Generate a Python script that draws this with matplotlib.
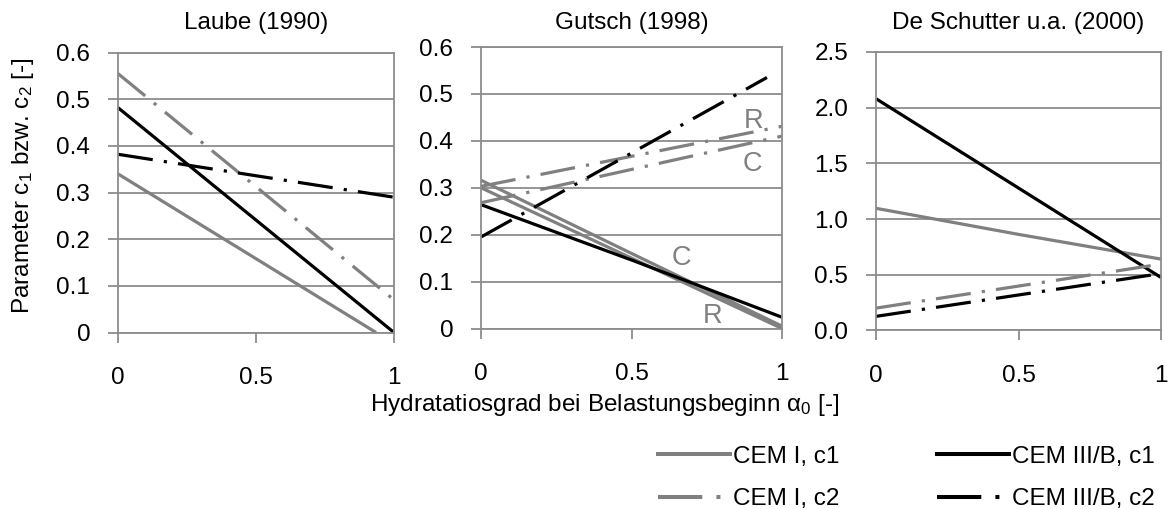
import numpy as np
import matplotlib
matplotlib.use("Agg")
import matplotlib.pyplot as plt
from matplotlib.lines import Line2D
from matplotlib.ticker import FuncFormatter

# Hydratationsgrad bei Belastungsbeginn (x) und Parameter c1 / c2 (y)
laube_x = [0.0, 1.0]
laube_cem1_c1_x = [0.0, 0.935]
laube_cem1_c1 = [0.34, 0.0]
laube_cem3_c1 = [0.482, 0.0]
laube_cem1_c2 = [0.555, 0.07]
laube_cem3_c2 = [0.382, 0.29]

gutsch_x = [0.0, 0.5, 1.0]
gutsch_cem1_c1_C = [0.316, 0.160, 0.005]
gutsch_cem1_c1_R = [0.300, 0.150, 0.0]
gutsch_cem3_c1 = [0.264, 0.146, 0.024]
gutsch_cem1_c2_R = [0.303, 0.367, 0.431]
gutsch_cem1_c2_C = [0.268, 0.339, 0.410]
gutsch_cem3_c2_x = [0.0, 0.95]
gutsch_cem3_c2 = [0.195, 0.535]

schutter_x = [0.0, 0.5, 1.0]
schutter_cem1_c1 = [1.096, 0.862, 0.64]
schutter_cem3_c1 = [2.08, 1.278, 0.475]
schutter_cem1_c2 = [0.20, 0.398, 0.595]
schutter_cem3_c2 = [0.126, 0.318, 0.51]

titles = ["Laube (1990)", "Gutsch (1998)", "De Schutter u.a. (2000)"]
legend_labels = ["CEM I, c1", "CEM I, c2", "CEM III/B, c1", "CEM III/B, c2"]

GRAY = "#808080"
GRID = "#8c8c8c"
BLACK = "#000000"
LW = 2.3
DASHDOT = (0, (11, 3.5, 1, 3.5))
FS = 17.5

plt.rcParams["font.family"] = ["Liberation Sans", "DejaVu Sans"]
plt.rcParams["mathtext.fontset"] = "custom"
plt.rcParams["mathtext.rm"] = "Liberation Sans"
plt.rcParams["mathtext.it"] = "Liberation Sans:italic"
plt.rcParams["font.size"] = FS

fig = plt.figure(figsize=(11.69, 5.09), dpi=100)

W, H = 1169.0, 509.0
boxes = [(118, 394, 52.6, 332.5), (481, 782, 47.0, 328.5), (876, 1161, 51.9, 330.4)]
axes = []
for (x0, x1, ytop, ybot) in boxes:
    ax = fig.add_axes([x0 / W, 1 - ybot / H, (x1 - x0) / W, (ybot - ytop) / H])
    axes.append(ax)


def style_axis(ax, ymax, ystep, fmt):
    ax.set_xlim(0, 1)
    ax.set_ylim(0, ymax)
    ax.set_xticks([0, 0.5, 1])
    ax.set_xticklabels(["0", "0.5", "1"])
    ax.set_yticks(np.arange(0, ymax + ystep / 2, ystep))
    ax.yaxis.set_major_formatter(FuncFormatter(fmt))
    ax.grid(axis="y", color=GRID, linewidth=1.3)
    ax.set_axisbelow(True)
    for sp in ax.spines.values():
        sp.set_color(GRID)
        sp.set_linewidth(1.3)
    ax.tick_params(axis="x", direction="out", length=7, width=1.3, color=GRID,
                   pad=18, labelsize=FS)
    ax.tick_params(axis="y", direction="out", length=7, width=1.3, color=GRID,
                   pad=13, labelsize=FS)


def fmt_01(v, pos):
    return "0" if abs(v) < 1e-9 else "%.1f" % v


def fmt_05(v, pos):
    return "%.1f" % v


def draw(ax, x, y, color, ls):
    ax.plot(x, y, color=color, linewidth=LW, linestyle=ls, clip_on=False,
            solid_capstyle="butt", dash_capstyle="butt")


# Laube (1990)
ax = axes[0]
style_axis(ax, 0.6, 0.1, fmt_01)
draw(ax, laube_cem1_c1_x, laube_cem1_c1, GRAY, "-")
draw(ax, laube_x, laube_cem3_c1, BLACK, "-")
draw(ax, laube_x, laube_cem1_c2, GRAY, DASHDOT)
draw(ax, laube_x, laube_cem3_c2, BLACK, DASHDOT)

# Gutsch (1998)
ax = axes[1]
style_axis(ax, 0.6, 0.1, fmt_01)
draw(ax, gutsch_x, gutsch_cem1_c1_C, GRAY, "-")
draw(ax, gutsch_x, gutsch_cem1_c1_R, GRAY, "-")
draw(ax, gutsch_x, gutsch_cem3_c1, BLACK, "-")
draw(ax, gutsch_x, gutsch_cem1_c2_R, GRAY, DASHDOT)
draw(ax, gutsch_x, gutsch_cem1_c2_C, GRAY, DASHDOT)
draw(ax, gutsch_cem3_c2_x, gutsch_cem3_c2, BLACK, DASHDOT)
for tx, ty, s in [(0.905, 0.442, "R"), (0.90, 0.35, "C"), (0.667, 0.15, "C"), (0.768, 0.026, "R")]:
    ax.text(tx, ty, s, color=GRAY, fontsize=19.5, ha="center", va="center")

# De Schutter u.a. (2000)
ax = axes[2]
style_axis(ax, 2.5, 0.5, fmt_05)
draw(ax, schutter_x, schutter_cem1_c1, GRAY, "-")
draw(ax, schutter_x, schutter_cem3_c1, BLACK, "-")
draw(ax, schutter_x, schutter_cem1_c2, GRAY, DASHDOT)
draw(ax, schutter_x, schutter_cem3_c2, BLACK, DASHDOT)

for ax, t in zip(axes, titles):
    pos = ax.get_position()
    fig.text((pos.x0 + pos.x1) / 2, 1 - 23 / H, t, ha="center", va="center", fontsize=FS)

fig.text(23 / W, 1 - 186 / H, r"Parameter c$_1$ bzw. c$_2$ [-]", rotation=90,
         ha="center", va="center", fontsize=FS)
fig.text(605 / W, 1 - 405 / H, r"Hydratatiosgrad bei Belastungsbeginn α$_0$ [-]",
         ha="center", va="center", fontsize=FS)

handles = [
    Line2D([], [], color=GRAY, linewidth=LW + 0.6, linestyle="-"),
    Line2D([], [], color=GRAY, linewidth=LW + 0.6, linestyle=DASHDOT),
    Line2D([], [], color=BLACK, linewidth=LW + 0.6, linestyle="-"),
    Line2D([], [], color=BLACK, linewidth=LW + 0.6, linestyle=DASHDOT),
]
fig.legend(handles, legend_labels, ncol=2, frameon=False, loc="center right",
           bbox_to_anchor=(1155 / W, 1 - 478 / H), fontsize=FS,
           handlelength=2.95, handletextpad=0.15, columnspacing=4.0,
           labelspacing=0.85, borderpad=0, borderaxespad=0)

fig.savefig("out.png", dpi=100)
